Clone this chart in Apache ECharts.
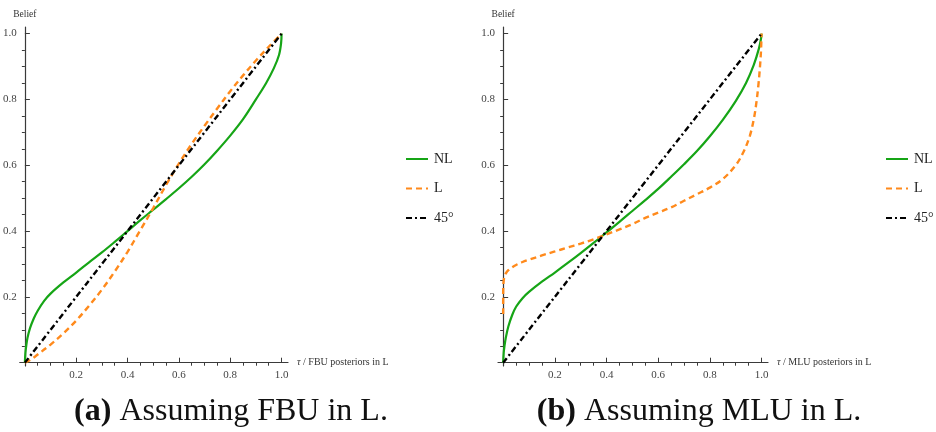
<!DOCTYPE html>
<html>
<head>
<meta charset="utf-8">
<script src="https://cdn.jsdelivr.net/npm/echarts@6/dist/echarts.min.js"></script>
<style>
  html, body { margin: 0; padding: 0; background: #fff; }
  #chart { width: 936px; height: 432px; }
</style>
</head>
<body>
<div id="chart"></div>
<script>
// Panel (a): beliefs when L uses FBU
const fbuNlTau    = [0, 0.002, 0.005, 0.01, 0.02, 0.035, 0.05, 0.075, 0.1, 0.15, 0.2, 0.25, 0.3, 0.35, 0.4, 0.45, 0.5, 0.55, 0.6, 0.65, 0.7, 0.75, 0.8, 0.85, 0.9, 0.94, 0.97, 0.99, 0.998, 1];
const fbuNlBelief = [0, 0.03, 0.05, 0.075, 0.105, 0.135, 0.158, 0.188, 0.21, 0.244, 0.274, 0.305, 0.335, 0.367, 0.4, 0.433, 0.465, 0.497, 0.53, 0.565, 0.603, 0.645, 0.69, 0.74, 0.8, 0.85, 0.895, 0.935, 0.97, 1];
const fbuLTau     = [0, 0.02, 0.05, 0.1, 0.15, 0.2, 0.25, 0.3, 0.35, 0.4, 0.45, 0.5, 0.55, 0.6, 0.65, 0.7, 0.75, 0.8, 0.85, 0.9, 0.95, 1];
const fbuLBelief  = [0, 0.008, 0.025, 0.055, 0.089, 0.128, 0.173, 0.222, 0.277, 0.337, 0.403, 0.47, 0.54, 0.605, 0.665, 0.72, 0.773, 0.825, 0.873, 0.918, 0.96, 1];

// Panel (b): beliefs when L uses MLU
const mluNlTau    = [0, 0.002, 0.005, 0.01, 0.02, 0.035, 0.05, 0.075, 0.1, 0.15, 0.2, 0.25, 0.3, 0.35, 0.4, 0.45, 0.5, 0.55, 0.6, 0.65, 0.7, 0.75, 0.8, 0.85, 0.9, 0.94, 0.97, 0.99, 0.998, 1];
const mluNlBelief = [0, 0.03, 0.05, 0.075, 0.11, 0.145, 0.17, 0.196, 0.215, 0.246, 0.274, 0.303, 0.333, 0.364, 0.396, 0.428, 0.461, 0.494, 0.528, 0.565, 0.603, 0.643, 0.688, 0.738, 0.795, 0.85, 0.905, 0.955, 0.985, 1];
const mluLTau     = [0, 0, 0.001, 0.003, 0.006, 0.01, 0.02, 0.035, 0.05, 0.075, 0.1, 0.15, 0.2, 0.25, 0.3, 0.35, 0.4, 0.45, 0.5, 0.55, 0.6, 0.65, 0.7, 0.75, 0.8, 0.85, 0.9, 0.93, 0.955, 0.97, 0.98, 0.988, 0.994, 0.998, 1];
const mluLBelief  = [0.148, 0.21, 0.24, 0.255, 0.264, 0.271, 0.281, 0.29, 0.297, 0.306, 0.313, 0.326, 0.338, 0.35, 0.362, 0.375, 0.39, 0.405, 0.421, 0.44, 0.456, 0.472, 0.492, 0.512, 0.532, 0.558, 0.6, 0.64, 0.69, 0.74, 0.79, 0.845, 0.9, 0.95, 1];

// 45-degree reference line
const diagTau    = [0, 1];
const diagBelief = [0, 1];

// Axis ticks
const majorTicks = [0.2, 0.4, 0.6, 0.8, 1.0];
const minorTicks = [0.05, 0.1, 0.15, 0.25, 0.3, 0.35, 0.45, 0.5, 0.55, 0.65, 0.7, 0.75, 0.85, 0.9, 0.95];

const seriesNames = ['NL', 'L', '45°'];
const xNames = ['FBU posteriors in L', 'MLU posteriors in L'];
const captions = [['(a)', 'Assuming FBU in L.'], ['(b)', 'Assuming MLU in L.']];

const serif = '"Liberation Serif", "Times New Roman", serif';
const axisColor = '#3a3a3a';
const colors = { NL: '#16a516', L: '#ff8a1c', diag: '#000000' };

const zip = (xs, ys) => xs.map((x, i) => [x, ys[i]]);

const grids = [
  { left: 18, top: 27, width: 270, height: 339 },
  { left: 498, top: 27, width: 270, height: 339 }
];

const xAxes = [];
const yAxes = [];
grids.forEach((g, gi) => {
  // main axis: labels and long ticks
  xAxes.push({
    type: 'value', gridIndex: gi, min: -0.02, max: 1.025,
    splitLine: { show: false },
    axisLine: { show: true, onZero: true, lineStyle: { color: axisColor, width: 1.2 } },
    axisTick: { show: true, inside: true, length: 5, customValues: majorTicks, lineStyle: { color: axisColor } },
    axisLabel: { customValues: majorTicks, margin: 4, color: '#444', fontFamily: serif, fontSize: 11,
                 formatter: v => v.toFixed(1) },
    name: '{i|τ} / ' + xNames[gi], nameLocation: 'end', nameGap: 9,
    nameTextStyle: { fontFamily: serif, fontSize: 10, color: '#333', align: 'left', verticalAlign: 'middle',
                     rich: { i: { fontStyle: 'italic', fontFamily: serif, fontSize: 10, color: '#333' } } }
  });
  // minor ticks only
  xAxes.push({
    type: 'value', gridIndex: gi, min: -0.02, max: 1.025,
    splitLine: { show: false },
    axisLine: { show: false, onZero: true },
    axisTick: { show: true, inside: true, length: 3, customValues: minorTicks, lineStyle: { color: axisColor } },
    axisLabel: { show: false }
  });
  yAxes.push({
    type: 'value', gridIndex: gi, min: -0.01, max: 1.02,
    splitLine: { show: false },
    axisLine: { show: true, onZero: true, lineStyle: { color: axisColor, width: 1.2 } },
    axisTick: { show: true, inside: true, length: 5, customValues: majorTicks, lineStyle: { color: axisColor } },
    axisLabel: { customValues: majorTicks, margin: 3, color: '#444', fontFamily: serif, fontSize: 11,
                 formatter: v => v.toFixed(1) },
    name: 'Belief', nameLocation: 'end', nameGap: 8,
    nameTextStyle: { fontFamily: serif, fontSize: 9.5, color: '#333', align: 'center' }
  });
  yAxes.push({
    type: 'value', gridIndex: gi, min: -0.01, max: 1.02,
    splitLine: { show: false },
    axisLine: { show: false, onZero: true },
    axisTick: { show: true, inside: true, length: 3, customValues: minorTicks, lineStyle: { color: axisColor } },
    axisLabel: { show: false }
  });
});

function curve(name, data, gi, color, type, width) {
  return {
    name, type: 'line', data, xAxisIndex: gi * 2, yAxisIndex: gi * 2,
    showSymbol: false, symbol: 'none', smooth: 0.35,
    silent: true, lineStyle: { color, type, width }, itemStyle: { color },
    animation: false
  };
}

const series = [
  curve('NL', zip(fbuNlTau, fbuNlBelief), 0, colors.NL, 'solid', 2.2),
  curve('L', zip(fbuLTau, fbuLBelief), 0, colors.L, [6, 4], 2.4),
  curve('45°', zip(diagTau, diagBelief), 0, colors.diag, [6, 3, 2, 3], 2.4),
  curve('NL', zip(mluNlTau, mluNlBelief), 1, colors.NL, 'solid', 2.2),
  curve('L', zip(mluLTau, mluLBelief), 1, colors.L, [6, 4], 2.4),
  curve('45°', zip(diagTau, diagBelief), 1, colors.diag, [6, 3, 2, 3], 2.4)
];

const legendBase = {
  data: seriesNames, orient: 'vertical', top: 152, padding: 0,
  itemWidth: 22, itemHeight: 14, itemGap: 15.5, selectedMode: false,
  itemStyle: { color: 'rgba(0,0,0,0)', opacity: 0, borderWidth: 0 },
  textStyle: { fontFamily: serif, fontSize: 14, color: '#222', padding: [0, 0, 0, 1] }
};

const titles = captions.map((c, i) => ({
  text: '{b|' + c[0] + '} ' + c[1],
  left: i === 0 ? 231 : 699, top: 396, textAlign: 'center', padding: 0,
  textStyle: {
    fontFamily: serif, fontSize: 32, fontWeight: 'normal', color: '#111',
    rich: { b: { fontFamily: serif, fontSize: 32, fontWeight: 'bold', color: '#111' } }
  }
}));

const chart = echarts.init(document.getElementById('chart'), null, { renderer: 'canvas' });
chart.setOption({
  animation: false,
  backgroundColor: '#ffffff',
  title: titles,
  grid: grids,
  xAxis: xAxes,
  yAxis: yAxes,
  legend: [
    Object.assign({}, legendBase, { left: 405 }),
    Object.assign({}, legendBase, { left: 885 })
  ],
  series
});
</script>
</body>
</html>
